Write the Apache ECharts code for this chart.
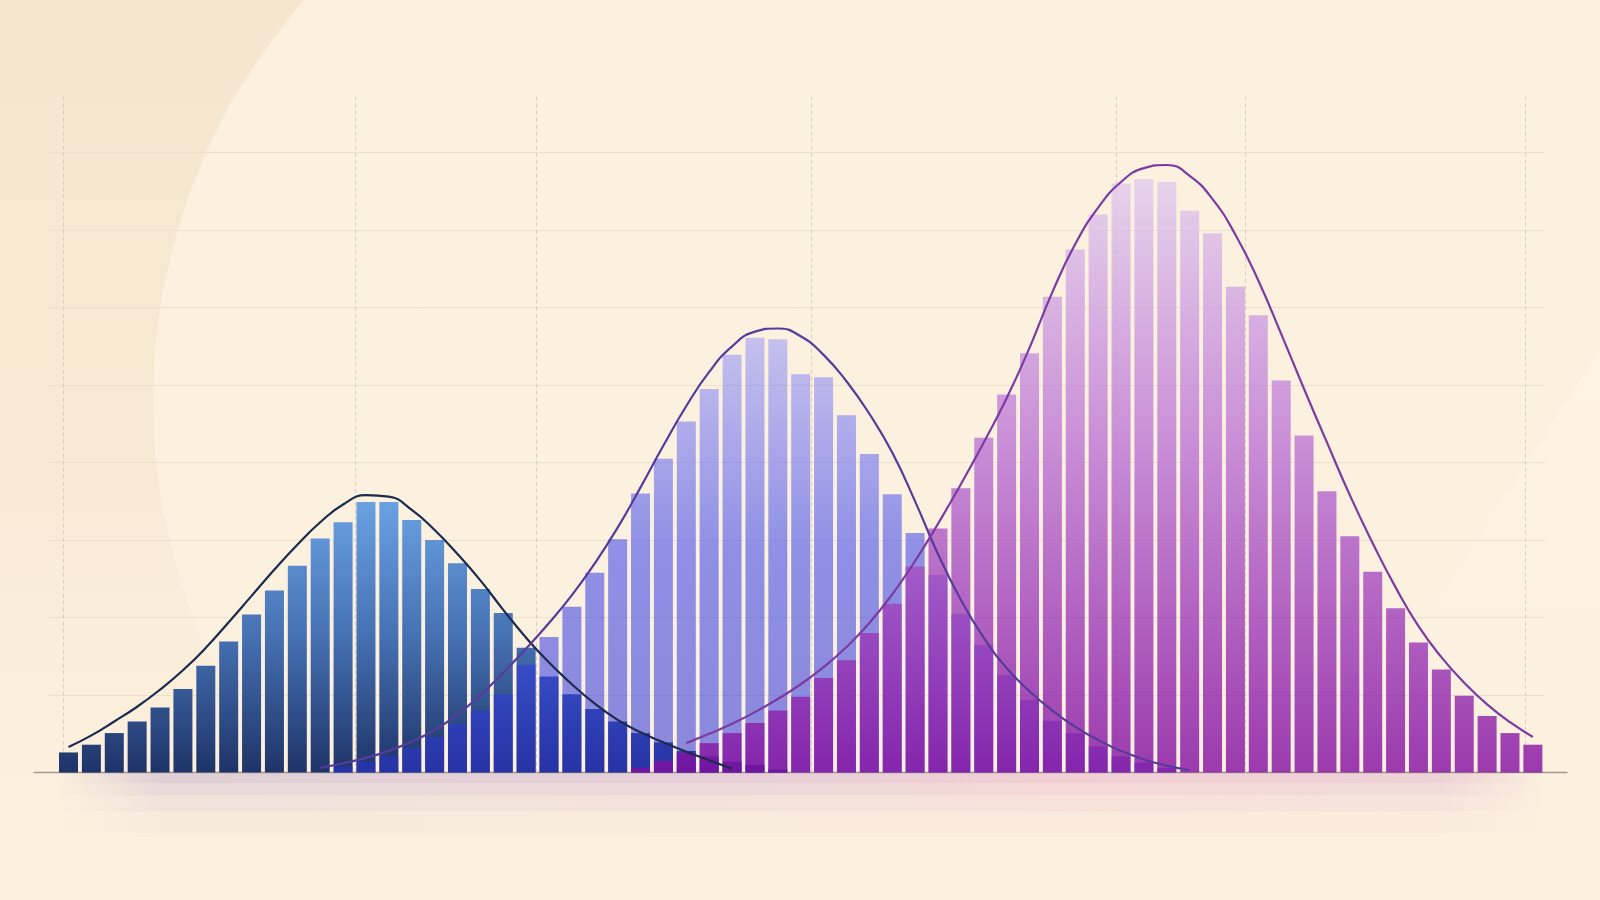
<!DOCTYPE html>
<html>
<head>
<meta charset="utf-8">
<script src="https://cdn.jsdelivr.net/npm/echarts@6/dist/echarts.min.js"></script>
<style>
html,body{margin:0;padding:0;background:#fcf0de;}
#chart{width:1600px;height:900px;}
</style>
</head>
<body>
<div id="chart"></div>
<script>
// ---------- data (bin index on x, count on y) ----------
const binCount = 65;

const blueStart = 0;
const blueBars = [2.6, 3.6, 5.1, 6.6, 8.4, 10.8, 13.8, 16.9, 20.4, 23.5, 26.7, 30.2, 32.3, 34.9, 34.9, 32.6, 30.0, 27.0, 23.7, 20.6, 16.1, 12.4, 10.1, 8.2, 6.6, 5.1, 3.9, 2.8, 2.1, 1.4, 1.0, 0.4];

const lavenderStart = 12;
const lavenderBars = [0.8, 1.4, 2.1, 3.2, 4.6, 6.3, 8.0, 10.1, 13.9, 17.5, 21.4, 25.8, 30.1, 36.0, 40.5, 45.3, 49.5, 53.9, 56.1, 55.9, 51.4, 51.0, 46.1, 41.1, 35.9, 30.9, 25.5, 20.5, 16.5, 12.6, 9.4, 6.7, 5.1, 3.4, 2.1, 1.3, 0.6];

const purpleStart = 25;
const purpleBars = [0.6, 1.5, 2.6, 3.8, 5.1, 6.4, 8.0, 9.8, 12.2, 14.5, 18.0, 21.8, 26.6, 31.5, 36.7, 43.2, 48.8, 54.1, 61.4, 67.5, 72.0, 76.0, 76.6, 76.2, 72.5, 69.6, 62.7, 59.0, 50.6, 43.5, 36.3, 30.5, 25.9, 21.2, 16.8, 13.3, 9.9, 7.3, 5.1, 3.6];

const blueCurveStart = 0;
const blueCurve = [3.3, 4.8, 6.6, 8.5, 10.7, 13.2, 16.1, 19.4, 22.8, 26.2, 29.4, 32.3, 34.6, 35.8, 35.6, 33.9, 31.3, 28.2, 24.8, 21.0, 17.4, 14.2, 11.4, 8.9, 6.8, 5.2, 3.9, 2.7, 1.6, 0.5];

const lavenderCurveStart = 11;
const lavenderCurve = [0.6, 1.2, 1.9, 2.8, 4.0, 5.5, 7.5, 10.0, 12.9, 16.0, 19.3, 22.9, 27.0, 31.6, 36.8, 42.2, 47.3, 51.7, 55.0, 56.9, 57.3, 56.3, 53.9, 50.5, 46.3, 41.3, 35.0, 28.2, 22.3, 17.4, 13.5, 10.5, 8.0, 5.9, 4.2, 2.8, 1.7, 0.9, 0.3];

const purpleCurveStart = 27;
const purpleCurve = [3.8, 5.0, 6.3, 7.8, 9.5, 11.4, 13.6, 16.2, 19.3, 23.0, 27.3, 32.1, 37.2, 42.6, 48.3, 54.8, 62.0, 68.2, 72.9, 76.2, 78.0, 78.4, 77.0, 74.0, 69.4, 63.5, 56.6, 49.5, 42.6, 35.8, 29.6, 23.9, 18.9, 14.9, 11.6, 8.8, 6.5, 4.6];

// dashed vertical guide lines (in bin units)
const verticalGuides = [-0.25, 12.55, 20.46, 32.46, 45.8, 51.44, 63.68];
const yTickStep = 10;

// ---------- helpers ----------
const toPairs = (start, arr) => arr.map((v, i) => [start + i, v]);
const vGrad = (y1, y2, stops) => ({
  type: 'linear', x: 0, y: y1, x2: 0, y2: y2, global: true,
  colorStops: stops.map(s => ({ offset: s[0], color: s[1] }))
});

const chart = echarts.init(document.getElementById('chart'), null, { renderer: 'canvas' });

const glowStops = a => ({
  type: 'linear', x: 0, y: 0, x2: 1, y2: 0,
  colorStops: [
    { offset: 0, color: 'rgba(190,172,200,0)' },
    { offset: 0.07, color: `rgba(178,160,200,${a})` },
    { offset: 0.45, color: `rgba(198,155,205,${a})` },
    { offset: 0.68, color: `rgba(226,155,198,${a})` },
    { offset: 0.93, color: `rgba(215,165,205,${a})` },
    { offset: 1, color: 'rgba(215,165,205,0)' }
  ]
});

const option = {
  backgroundColor: '#fcf0de',
  animation: false,
  graphic: [
    {
      type: 'polygon', z: -20, silent: true,
      shape: {
        points: [[0, 0], [303, 0], [265, 50], [232, 100], [207, 150], [187, 200], [172, 250], [161, 300], [155, 350], [153, 400], [155, 450], [161, 500], [172, 550], [187, 600], [207, 650], [232, 700], [265, 750], [303, 800], [0, 800]]
      },
      style: {
        fill: {
          type: 'linear', x: 0, y: 0, x2: 0, y2: 800, global: true,
          colorStops: [
            { offset: 0, color: 'rgba(246,230,207,1)' },
            { offset: 0.55, color: 'rgba(247,232,210,0.9)' },
            { offset: 1, color: 'rgba(248,234,214,0)' }
          ]
        }
      }
    },
    {
      type: 'polygon', z: -20, silent: true,
      shape: { points: [[1600, 350], [1365, 710], [1600, 710]] },
      style: {
        fill: {
          type: 'linear', x: 0, y: 350, x2: 0, y2: 710, global: true,
          colorStops: [
            { offset: 0, color: 'rgba(255,248,236,0.5)' },
            { offset: 1, color: 'rgba(255,248,236,0.1)' }
          ]
        }
      }
    },
    { type: 'rect', z: -5, silent: true, shape: { x: 55, y: 773, width: 1490, height: 10 }, style: { fill: glowStops(0.16) } },
    { type: 'rect', z: -5, silent: true, shape: { x: 55, y: 773, width: 1490, height: 22 }, style: { fill: glowStops(0.13) } },
    { type: 'rect', z: -5, silent: true, shape: { x: 55, y: 773, width: 1490, height: 38 }, style: { fill: glowStops(0.1) } },
    { type: 'rect', z: -5, silent: true, shape: { x: 55, y: 773, width: 1490, height: 60 }, style: { fill: glowStops(0.07) } }
  ],
  grid: [
    { left: 48.5, right: 55, top: 96.7, bottom: 127.4 },
    { left: 34, right: 33, top: 96.7, bottom: 127.4 }
  ],
  xAxis: [
    {
      type: 'value', gridIndex: 0, min: -0.875, max: 64.53,
      axisLine: { show: false }, axisTick: { show: false }, axisLabel: { show: false }, splitLine: { show: false }
    },
    {
      type: 'value', gridIndex: 1, min: 0, max: 1,
      axisLine: { show: true, lineStyle: { color: '#a39890', width: 1.3 } },
      axisTick: { show: false }, axisLabel: { show: false }, splitLine: { show: false }
    }
  ],
  yAxis: [
    {
      type: 'value', gridIndex: 0, min: 0, max: 87.21, interval: yTickStep,
      axisLine: { show: false }, axisTick: { show: false }, axisLabel: { show: false },
      splitLine: { show: true, showMinLine: false, showMaxLine: false, lineStyle: { color: '#ebdfcd', width: 1 } }
    },
    {
      type: 'value', gridIndex: 1, min: 0, max: 1, show: false
    }
  ],
  series: [
    {
      name: 'Group A', type: 'bar', xAxisIndex: 0, yAxisIndex: 0,
      data: toPairs(blueStart, blueBars),
      barWidth: 19, barGap: '-100%',
      itemStyle: {
        color: vGrad(495, 772, [[0, '#6ba4e4'], [0.5, '#4772b4'], [1, '#1e3468']]),
        opacity: 1
      },
      z: 2,
      markLine: {
        silent: true, symbol: ['none', 'none'], z: 1,
        label: { show: false },
        lineStyle: { type: [4, 3], color: '#d9cdbf', width: 1 },
        data: verticalGuides.map(v => ({ xAxis: v }))
      }
    },
    {
      name: 'Group B', type: 'bar', xAxisIndex: 0, yAxisIndex: 0,
      data: toPairs(lavenderStart, lavenderBars),
      barWidth: 19, barGap: '-100%',
      itemStyle: {
        color: vGrad(330, 772, [[0, '#9c9cfb'], [0.5, '#3540ec'], [1, '#2d32d7']]),
        opacity: 0.55
      },
      z: 3
    },
    {
      name: 'Group C', type: 'bar', xAxisIndex: 0, yAxisIndex: 0,
      data: toPairs(purpleStart, purpleBars),
      barWidth: 19, barGap: '-100%',
      itemStyle: {
        color: vGrad(166, 772, [[0, '#e3d0f0'], [0.47, '#bb73d4'], [1, '#830da1']]),
        opacity: 0.8
      },
      z: 4
    },
    {
      name: 'Fit A', type: 'line', xAxisIndex: 0, yAxisIndex: 0,
      data: toPairs(blueCurveStart, blueCurve), smooth: 0.5, symbol: 'none',
      lineStyle: { color: '#1b2a4f', width: 2.2 }, z: 6
    },
    {
      name: 'Fit B', type: 'line', xAxisIndex: 0, yAxisIndex: 0,
      data: toPairs(lavenderCurveStart, lavenderCurve), smooth: 0.5, symbol: 'none',
      lineStyle: { color: '#573b9c', width: 2.2 }, z: 6
    },
    {
      name: 'Fit C', type: 'line', xAxisIndex: 0, yAxisIndex: 0,
      data: toPairs(purpleCurveStart, purpleCurve), smooth: 0.5, symbol: 'none',
      lineStyle: { color: '#7c3aa3', width: 2.2 }, z: 6
    }
  ]
};

chart.setOption(option);
</script>
</body>
</html>
